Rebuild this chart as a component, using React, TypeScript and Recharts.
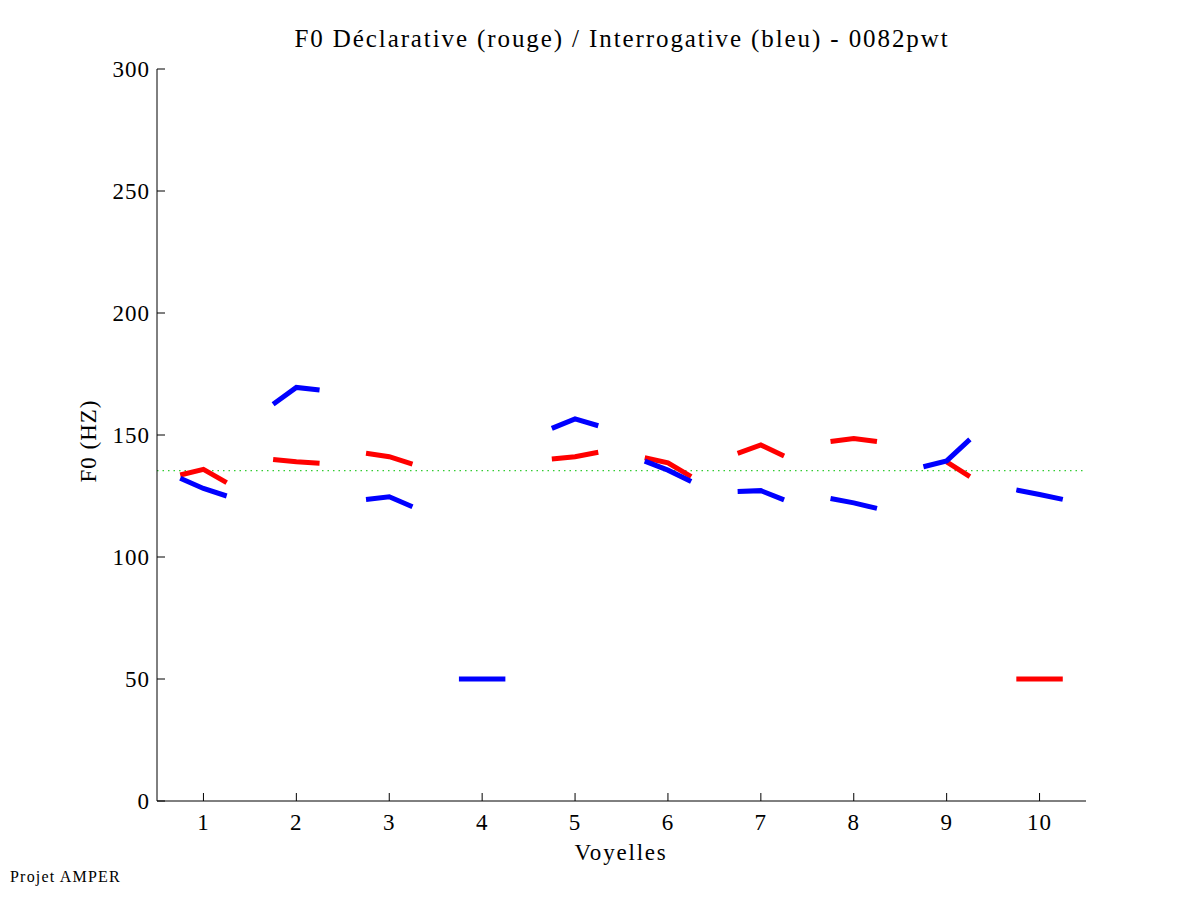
import React from "react";
import { LineChart, Line, XAxis, YAxis, ReferenceLine } from "recharts";

const vowels = [1, 2, 3, 4, 5, 6, 7, 8, 9, 10];
const pointOffsets = [-0.25, 0, 0.25];
const redF0: (number | null)[][] = [
  [133.6, 135.9, 130.5],
  [140.0, 139.0, 138.4],
  [142.5, 141.1, 138.1],
  [null, null, null],
  [140.2, 141.1, 142.9],
  [140.7, 138.6, 132.9],
  [142.5, 145.9, 141.4],
  [147.3, 148.6, 147.3],
  [null, 139.0, 132.9],
  [50, 50, 50],
];
const blueF0: (number | null)[][] = [
  [132.3, 128.1, 125.0],
  [162.6, 169.5, 168.4],
  [123.6, 124.7, 120.6],
  [50, 50, 50],
  [152.7, 156.6, 153.8],
  [139.3, 135.6, 130.9],
  [126.8, 127.2, 123.4],
  [124.0, 122.2, 119.9],
  [137.0, 139.4, 148.2],
  [127.5, 125.6, 123.6],
];
const meanF0 = 135.4;
const yTicks = [0, 50, 100, 150, 200, 250, 300];

const data: { x: number; red: number | null; blue: number | null }[] = [];
vowels.forEach((v, i) => {
  pointOffsets.forEach((o, j) => {
    data.push({ x: v + o, red: redF0[i][j], blue: blueF0[i][j] });
  });
  data.push({ x: v + 0.5, red: null, blue: null });
});

const FONT = "'Liberation Serif', 'Times New Roman', serif";

const XTick = (props: any) => {
  const { x, y, payload } = props;
  return (
    <g>
      <line x1={x} y1={y} x2={x} y2={y - 8} stroke="#000" strokeWidth={1} />
      <text x={x} y={y + 29} textAnchor="middle" fontFamily={FONT} fontSize={23} letterSpacing={1} fill="#000">
        {payload.value}
      </text>
    </g>
  );
};

const YTick = (props: any) => {
  const { x, y, payload } = props;
  return (
    <g>
      <line x1={x} y1={y} x2={x + 8} y2={y} stroke="#000" strokeWidth={1} />
      <text x={x - 7} y={y + 8} textAnchor="end" fontFamily={FONT} fontSize={23} letterSpacing={1} fill="#000">
        {payload.value}
      </text>
    </g>
  );
};

export default function App() {
  return (
    <div style={{ position: "relative", width: 1185, height: 885, background: "#fff" }}>
      <LineChart
        width={1185}
        height={885}
        data={data}
        margin={{ top: 61, right: 107, bottom: 32, left: 89 }}
      >
        <XAxis
          dataKey="x"
          type="number"
          domain={[0.5, 10.5]}
          ticks={vowels}
          tickSize={0}
          tickMargin={0}
          tick={<XTick />}
          height={60}
          stroke="#000"
          allowDataOverflow
        />
        <YAxis
          type="number"
          domain={[0, 300]}
          ticks={yTicks}
          tickSize={0}
          tickMargin={0}
          tick={<YTick />}
          width={60}
          stroke="#000"
          allowDataOverflow
        />
        <ReferenceLine y={meanF0} stroke="#33cc33" strokeWidth={1.3} strokeDasharray="1.5 4" />
        <Line
          dataKey="red"
          stroke="#ff0000"
          strokeWidth={5}
          dot={false}
          activeDot={false}
          isAnimationActive={false}
          connectNulls={false}
          type="linear"
        />
        <Line
          dataKey="blue"
          stroke="#0000ff"
          strokeWidth={5}
          dot={false}
          activeDot={false}
          isAnimationActive={false}
          connectNulls={false}
          type="linear"
        />
      </LineChart>
      <div
        style={{
          position: "absolute",
          left: 0,
          width: 1228,
          top: 17,
          textAlign: "center",
          fontFamily: FONT,
          fontSize: 25,
          letterSpacing: 1.9,
          whiteSpace: "nowrap",
        }}
      >
        F0 Déclarative (rouge) / Interrogative (bleu) - 0082pwt
      </div>
      <div
        style={{
          position: "absolute",
          left: 0,
          width: 1226,
          top: 832,
          textAlign: "center",
          fontFamily: FONT,
          fontSize: 23,
          letterSpacing: 1.8,
        }}
      >
        Voyelles
      </div>
      <div
        style={{
          position: "absolute",
          left: 82 - 100,
          top: 433 - 14,
          width: 200,
          textAlign: "center",
          fontFamily: FONT,
          fontSize: 23,
          letterSpacing: 1,
          transform: "rotate(-90deg)",
          transformOrigin: "100px 14px",
        }}
      >
        F0 (HZ)
      </div>
      <div
        style={{
          position: "absolute",
          left: 2,
          top: 860,
          fontFamily: FONT,
          fontSize: 16,
          letterSpacing: 1.2,
          whiteSpace: "nowrap",
        }}
      >
        Projet AMPER
      </div>
    </div>
  );
}
